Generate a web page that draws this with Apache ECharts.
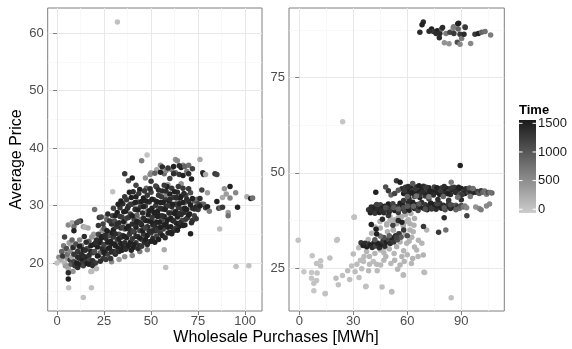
<!DOCTYPE html>
<html>
<head>
<meta charset="utf-8">
<script src="https://cdn.jsdelivr.net/npm/echarts@6/dist/echarts.min.js"></script>
<style>html,body{margin:0;padding:0;background:#fff}#c{width:572px;height:349px}</style>
</head>
<body>
<div id="c"></div>
<script>
// ---- data: [purchases, price, time] ----
const leftTail = [[1,21,600],[2,20.5,300],[2.5,22,900],[3,21.2,1300],[3.5,23,700],[4,24.5,1200],[4,20,200],[5,22.5,1100],[5,19.5,400],[5.5,21.5,800],[6,18.3,1400],[6,17.2,1500],[6.5,23.5,400],[7,20.5,1300],[7,22,600],[7.5,19.8,1000],[8,24,900],[8,21,300],[8.5,22.7,1400],[9,20.2,1200],[9,25.6,1500],[9.5,19.5,1300],[10,21.5,700],[10,23.3,1100],[10.5,20,1500],[11,22,1300],[11,19.2,1400],[11.5,27.2,1000],[12,20.8,1200],[12,24,600],[12.5,19.8,1500],[13,21.5,1400],[13,23,800],[13.5,20.3,1300],[14,22.3,1500],[14,19.5,1200],[14.5,24.6,1400],[15,21,1500],[15,26.2,200],[15.5,20.2,1300],[16,22.5,1100],[16,19.9,1500],[16.5,26.1,300],[17,21.3,1400],[17,23.8,900],[17.5,20.5,1200],[18,22,1500],[18,18.5,200],[18.5,24.5,500],[19,20.4,1400],[19,21.8,1300],[19.5,23.2,1500],[20,29.3,800],[20,22,1100],[20.5,20,1300],[15,22.2,1400],[17,19.8,1500],[13,20.8,1500],[11,21,1400],[12,22.9,1500],[9,21.5,1300],[15.5,23.6,1400],[18,23,1500],[19,19.5,1400],[14,21.2,1400]];
const leftCloud = [[21,24,1400],[21,19,200],[21.5,22.8,1500],[22,25,1200],[22,21.3,1400],[22.5,27.9,1300],[23,23.5,1500],[23,21.8,900],[23.5,28,1100],[24,22.5,1400],[24,24.6,1500],[24.5,20.8,1300],[25,23.2,1200],[25,26,1000],[25.5,21.6,1500],[26,24.3,1400],[26,22.3,1300],[26.5,27.5,900],[27,23.6,1500],[27,21.5,1200],[27.5,25.3,1400],[28,22.6,1500],[28,24.8,1100],[28.5,20.8,1300],[29,26.8,1400],[29,23.4,1500],[29.5,28.2,1200],[30,22,1400],[30,24.5,1300],[30,25.8,1500],[30.5,27.3,1100],[31,23,1500],[31,21.5,1400],[31.5,26.3,1300],[32,28.8,1500],[32,24.1,1200],[32.5,22.5,1500],[33,27,1400],[33,25,1100],[33.5,29.6,1300],[34,23.4,1500],[34,26.1,1400],[34.5,28,1200],[35,22.7,1500],[35,24.8,1300],[35,30.3,1400],[35.5,27.2,1500],[36,25.9,1000],[36,23.5,1400],[36.5,29,1500],[37,31,1300],[37,24.4,1500],[37,27.8,1200],[37.5,22.8,1400],[38,26.4,1500],[38,29.9,1400],[38,34.3,1100],[38.5,25,1300],[39,23.6,1500],[39,28.5,1200],[39.5,31.4,1500],[40,26.8,1400],[40,24.2,1300],[40,30.2,1100],[40.5,22.7,1500],[41,27.6,1200],[41,25.4,1500],[41.5,29.3,1400],[42,31.5,1500],[42,23.5,1300],[42,26.2,1500],[42.5,28.3,900],[43,24.6,1400],[43,30.6,1300],[43.5,27,1500],[44,25.6,1200],[44,23,1400],[44,32.8,1500],[44.5,29.8,1300],[45,26.6,1500],[45,24.1,1100],[45,37.8,700],[45.5,28.7,1400],[46,31.3,1500],[46,25,1300],[46.5,23.6,1400],[47,27.4,1500],[47,29.9,1200],[47.5,33,900],[48,24.8,1500],[48,26.3,1400],[48,31.8,1300],[48.5,28.4,1500],[49,23.7,1100],[49,30.6,1400],[49.5,35.4,600],[50,27.2,1500],[50,25.2,1300],[50,32.3,1200],[50.5,29.5,1500],[51,24.3,1400],[51,26.7,1500],[51.5,31,1100],[52,28.3,1400],[52,25.6,1500],[52,35.6,900],[52.5,30,1300],[53,27.1,1500],[53,24.7,1200],[53,33.2,1400],[53.5,29,1500],[54,26,1400],[54,31.8,1300],[54.5,28.2,1500],[55,25.2,1300],[55,30.5,1500],[55.5,27.3,1100],[56,32.5,1400],[56,29.4,1500],[56,36.7,1400],[56.5,25.9,1200],[57,28.1,1500],[57,35.5,800],[57.5,31,1300],[58,26.8,1500],[58,29.8,1400],[58,36.1,600],[58.5,33.3,1500],[59,27.6,1200],[59,25.2,1400],[59.5,30.8,1500],[60,28.7,1300],[60,32,1500],[60,34.7,1200],[60.5,26.3,1500],[61,29.8,1400],[61,36.2,700],[61.5,27.4,1500],[62,31.4,1300],[62,25.6,1400],[62,36.8,1500],[62.5,28.6,1500],[63,30.2,1200],[63,35.7,900],[63.5,26.9,1500],[64,32.3,1400],[64,28,1500],[64,37.8,600],[64.5,29.6,1300],[65,26.4,1500],[65,35.4,1300],[65.5,31.3,1500],[66,28.4,1400],[66,36.6,1500],[66.5,27.4,1200],[67,30.5,1500],[67,33,1300],[67.5,28.8,1400],[68,26.6,1500],[68,36.8,900],[68.5,31.8,1200],[69,29.3,1500],[69,35.9,700],[69.5,27.9,1300],[70,30.7,1400],[70,37,800],[70.5,28.5,1500],[71,25.1,1500],[71,32.2,1100],[71.5,34.6,1500],[72,29.5,1400],[72,27.4,1300],[73,30.8,1000],[73,28.2,1200],[74,29.8,1500],[74.5,31.1,800],[75,30.3,1200],[75,29.3,1300],[76,31.2,1400],[77,30.2,1100],[77,32.7,1200],[77.5,35.7,1400],[78,30.2,900],[78,35.4,1500],[79,29.6,1300],[80,29.8,1500],[81,29,700]];
const leftFill = [[20.5,23.5,1400],[21.5,21.2,1500],[22,26.5,1300],[23,20.3,1400],[23.5,24.3,1500],[24.5,26.8,1200],[25,21.9,1500],[25.5,24.8,1400],[26,20.6,1300],[26.5,25.6,1500],[27,28.5,1400],[27.5,22.6,1500],[28,27.3,1300],[28.5,23.8,1500],[29,21.9,1400],[29.5,25.2,1500],[30,29.5,1200],[30.5,23.3,1500],[31,25.1,1400],[31,28.2,1500],[31.5,21.9,1300],[32,26.8,1400],[32.5,30.2,1500],[33,22,1400],[33,24.2,1500],[33.5,28.1,1300],[34,30.8,1500],[34.5,24.5,1400],[34.5,22.2,1500],[35,26.2,1200],[35.5,28.9,1500],[36,24.6,1500],[36,31.5,1300],[36.5,22.4,1400],[37,26,1500],[37.5,29.5,1400],[38,23.1,1500],[38,27.9,1300],[38.5,32.3,1500],[39,25.6,1400],[39,30.2,1300],[39.5,22.2,1500],[40,28.2,1500],[40.5,25.5,1200],[40.5,32.4,1400],[41,23.2,1500],[41.5,26.7,1400],[41.5,30.5,1500],[42,24.6,1400],[42.5,27.2,1500],[43,22.5,1400],[43,29.2,1500],[43.5,32.1,1300],[44,24.3,1500],[44.5,26.9,1400],[45,30.7,1500],[45,22.9,1300],[45.5,25.6,1500],[46,27.8,1400],[46,29.8,1500],[46.5,32.5,1300],[47,24.1,1500],[47,26.1,1200],[47.5,30.8,1500],[48,23.2,1400],[48.5,27.3,1500],[49,25.5,1400],[49,29.1,1500],[49.5,32.9,1400],[50,23.8,1500],[50.5,27.9,1300],[50.5,31.1,1500],[51,25.6,1400],[51.5,28.8,1500],[52,23.6,1500],[52,26.5,1400],[52.5,33.4,1200],[53,30.7,1500],[53.5,25.7,1300],[53.5,28.1,1500],[54,24.1,1500],[54,32.7,1400],[54.5,27.1,1500],[55,29.5,1400],[55,26.2,1500],[55.5,31.5,1300],[56,24.8,1500],[56,28.2,1400],[56.5,30.5,1500],[57,26.6,1500],[57,33.5,1300],[57.5,24.4,1400],[57.5,29.3,1500],[58,32.5,1400],[58.5,27.4,1500],[59,30,1300],[59,26.2,1500],[59.5,28.7,1400],[60,25.3,1500],[60,31.1,1400],[60.5,27.8,1500],[61,33,1300],[61,25.1,1500],[61.5,30.2,1500],[62,27.3,1400],[62.5,32.4,1500],[63,26,1300],[63,28.9,1500],[63.5,31.4,1400],[64,25.7,1500],[64.5,33.3,1300],[65,28.6,1400],[65,30.3,1500],[65.5,27,1400],[66,31.6,1500],[66.5,29.4,1300],[67,26.5,1500],[67.5,32.1,1400],[68,29.5,1500],[68.5,27.6,1300],[69,31.1,1400],[70,28.4,1500],[70,32.9,1300],[71,30.1,1500],[71.5,27,1400],[72,31.2,1500],[73,29.4,1400],[74,27.7,1300],[76,29.9,1500],[36,35.5,1300],[40,34.8,1500],[42,33.5,1200],[50,34.2,1300],[55,35.8,1500],[59,36.5,1300],[62,35.5,1400],[65,36.9,1400],[67,35.2,1500],[70,35.5,1400],[72,36.4,1200]];
const leftMid = [[30,26.8,600],[33,23.3,700],[36,27,500],[39,25.8,800],[42,29.5,600],[44,27.6,700],[46,26,500],[48,29,600],[50,26.2,700],[52,27.2,500],[54,29.5,600],[56,27.8,800],[58,31.8,600],[60,30,500],[62,29,700],[64,30.8,600],[66,33.8,500],[68,30.5,700],[47,34.8,500],[50,35.7,400],[55,37,500],[59,33.6,400],[63,38,500],[67,37,600],[53,36.2,300],[57,22.3,300],[48,22.3,600],[44,22,700],[40,21.3,600],[36,21.1,500],[33,20.6,400],[29,20.2,600],[3,21,400],[4,22.2,300],[5.5,20.8,500],[7,23.3,300],[6,26.6,600],[8,27,300],[9,26.3,800],[10.5,27,1100],[12.5,27.3,1400],[14,26.3,400],[2,20.6,200],[4.5,19.5,600],[6,19,300],[8.5,18.5,500],[10,22.6,200],[12,22.3,400],[16,20.6,300],[18,20,600],[19.5,25,400],[22,24.8,300],[24,25.6,500],[26,28,400]];
const leftSparse = [[79,35.4,300],[80,32.2,400],[84,35.5,1300],[85,35.4,1200],[85,30.7,1500],[86,29.5,1200],[87,29.6,900],[88,29.7,1300],[88,31.4,300],[89,32.9,500],[90,32,400],[91,28.8,400],[91,28.2,800],[92,33.3,1500],[92,31.3,600],[95,32.2,600],[96,29.7,1500],[101,31.5,300],[103,31.2,1500],[104,31.3,800],[76,38,300],[32.1,61.9,100],[14,14,100],[6.2,15.7,100],[18.3,15.7,100],[57.8,19.2,100],[95.2,19.4,100],[102,19.5,100],[47.9,38.8,100],[86.5,25.9,100],[29.6,32.4,100],[0,20,100],[18.5,18.5,150]];

const rightTop = [[68.9,89.6,1400],[68.2,88.9,1500],[67,86.9,1400],[73.5,87.8,1500],[74.5,87.1,1300],[76.7,87.3,1500],[78.1,86.6,1400],[79,87.8,1000],[77.8,85.5,1400],[81.5,86.6,700],[83.7,86.9,1200],[85.5,87.9,600],[85.9,86.6,1300],[88,89.1,1500],[88.3,87.8,900],[89.3,86.4,1300],[90.2,85.3,700],[92,88.4,800],[91.5,86.4,1400],[80.6,84.2,500],[83.2,83.9,500],[87.8,84.3,1100],[89.3,83.8,600],[95.2,84,600],[97.6,86.4,1300],[99.5,86.6,1500],[101.3,86.9,900],[103.2,87.1,800],[106.3,86.2,700],[76,86.6,1400],[72.1,87.2,1400],[88.5,89.3,1500],[92.2,88.2,1300],[79.6,88.2,1400],[85.7,88.4,700]];
const rightBand45 = [[57,45.8,1400],[58,44.6,1500],[59,46.2,1300],[60,45.1,1500],[61,44.3,1400],[62,46,1500],[63,45.3,1200],[64,44.5,1500],[65,46.3,1400],[66,45,1500],[67,44.2,1300],[68,45.7,1500],[69,46.5,1400],[70,44.7,1500],[71,45.5,1300],[72,46.1,1500],[73,44.4,1400],[74,45.2,1500],[75,46.3,1200],[76,44.9,1500],[77,45.7,1400],[78,44.3,1500],[79,46,1300],[80,45.2,1500],[81,44.6,1400],[82,45.9,1500],[83,45.1,1200],[84,44.3,1400],[85,45.6,1500],[86,46.2,1300],[87,44.8,1500],[88,45.5,1400],[89,44.4,1100],[90,45.9,1500],[91,45,1300],[92,44.6,1500],[93,45.5,1400],[94,44.9,1200],[95,45.3,1500],[96,44.7,1400],[97,45.4,1300],[98,44.9,1500],[99,45.1,1200],[100,44.6,1000],[101,45.3,1300],[102,44.9,900],[103,45.2,800],[104,44.4,700],[105,44.8,1100],[107,44.7,900],[58.5,45.3,1300],[60.5,46.4,1400],[62.5,44.8,1500],[64.5,45.8,1300],[66.5,46.6,1500],[68.5,44.9,1400],[70.5,46.2,1300],[72.5,45,1500],[74.5,44.2,1400],[76.5,46.1,1500],[78.5,45.3,1300],[80.5,46.4,1400],[82.5,44.5,1500],[84.5,46,1300],[86.5,45.1,1400],[88.5,46.2,1500],[90.5,44.3,1300],[92.5,45.8,1400],[94.5,46,1000],[96.5,45.9,800],[60,43.8,900],[65,43.9,800],[72,43.7,700],[80,43.8,900],[88,43.6,800],[95,43.8,700],[54,47.9,1300],[42.5,44.9,1500],[49.5,45.3,1300],[48,46.3,1100],[51,44.2,900],[56,47.5,1500],[63,47.2,1000],[84.4,47.5,700],[106,44.8,800],[105.7,41.8,600],[53,44.6,1200],[55,45.4,1000],[89.4,51.9,1500]];
const rightBand41 = [[38.5,40.3,1300],[39.5,39.5,1500],[40,41,1400],[41,40.2,1500],[42,39.4,1300],[42.5,41.3,1500],[43.5,40.5,1400],[44.5,39.6,1500],[45,41.6,1200],[46,40.7,1500],[47,39.5,1400],[47.5,41.2,1500],[48.5,40.3,1300],[49.5,41.8,1500],[50,39.8,1400],[51,40.8,1500],[52,41.9,1200],[53,40.1,1500],[54,41.1,1400],[55,39.6,1300],[56,42,1500],[56.5,40.6,1400],[57.5,41.5,1500],[58.5,39.9,1200],[59.5,40.9,1500],[60.5,42.1,1400],[61,40.2,1500],[62,41.2,1300],[63,42.3,1500],[64,40.6,1400],[65,41.6,1500],[66,40.1,1200],[67,41,1500],[68,42.2,1400],[69,40.7,1500],[70,41.6,1300],[71,40.3,1500],[72,41.3,1400],[73,42.1,1500],[74,40.8,1200],[75,41.7,1500],[76,40.4,1400],[77,41.3,1500],[78,42,1300],[79,40.7,1500],[80,41.5,1400],[81,40.3,1100],[82,41.2,1500],[83,41.9,1300],[84,40.6,1400],[85,41.4,1200],[86,40.9,1500],[87,41.5,1000],[88,41.1,1300],[89,40.7,900],[90,41.4,1100],[91,41,800],[92,41.3,700],[93,40.8,600],[40,40.1,1400],[43,41.7,1200],[45.5,40.2,1400],[48,40.9,1100],[50.5,40.4,1300],[52.5,40.9,1000],[55,40.5,900],[58,40.8,1100],[60,41.2,1000],[63.5,41.2,900],[66.5,41.8,1000],[70,40.4,1100],[73.5,40.5,1300],[76.5,41.9,1200],[80.5,40.8,1000],[84,41.6,1100],[87,40.3,900],[58,42.7,1300],[61,43.1,1400],[67,43.5,1500],[72,43.2,1200],[77,43,1400],[83,42.8,1300],[90,42.9,1400],[64,43.8,1100],[70,43.9,1300],[98,41,500],[100,40.6,600],[101,40.3,700],[104,41.3,600]];
const rightBand31 = [[34.3,31.6,1300],[35.5,30.9,1500],[36.5,31.5,1400],[37.5,30.6,1500],[38.5,31.3,1300],[39.5,31,1500],[40.5,30.4,1400],[41.5,31.6,1500],[42.5,30.8,1200],[43.5,31.5,1500],[44.5,30.3,1400],[45.5,31.2,1500],[46.5,32,1300],[47.5,30.7,1400],[48.5,31.8,1500],[49.5,32.5,1200],[50.5,31.4,1400],[51.5,32.9,1500],[52.5,31.8,1300],[53.5,33.5,1400],[54.5,32.4,1100],[55.5,34,1300],[56.5,33.1,1000],[50,33.5,900],[47,33,1100],[45,33.4,800],[42,32.4,1000],[77.4,34.4,1300],[81.4,35,800],[93.1,38.7,1200],[80.5,38.2,1400],[69,35.9,1300],[42.7,35.2,1500],[46.2,37.8,1400],[49.5,38.8,1300],[52,36.2,1200],[55,37.5,1400],[58,35,1300],[60,33.5,1100],[54,33,1200],[43,33.9,1500],[40,36.4,1500],[57,37,1500]];
const rightGrey = [[-0.6,32.3,80],[20.8,32.3,120],[30.4,38.3,150],[7.2,28.2,60],[9.6,26.2,90],[11.9,26.9,70],[11.9,25.5,100],[17,27.6,110],[2.6,24,40],[6.8,23.8,50],[9.9,23.7,80],[6.8,22.3,60],[9.6,21.7,70],[8.1,21,90],[8.1,19,50],[14.3,18.2,60],[20.4,22.3,130],[21.7,20.6,100],[26.9,24.3,140],[29.1,25.5,120],[30,28.7,150],[33.2,22.5,110],[36.9,20.1,90],[34.7,24.8,130],[38.5,24.3,160],[35.7,26.7,140],[39,28,180],[43.3,24.3,150],[45.2,25.8,170],[41.1,26.7,120],[37.4,29.3,200],[33,30.3,160],[51.3,18.8,130],[54.6,24.7,190],[57.8,23.2,170],[58.3,26.7,200],[62.3,26.2,180],[69.3,23.9,150],[68.9,28.4,220],[65.2,29.7,190],[70.8,35,210],[50.9,26.2,160],[52.7,28.8,180],[48.1,28,200],[45,29.7,170],[40.7,30.6,190],[47.2,30.4,210],[54.1,30.6,230],[59.7,31.5,200],[58.7,33.7,240],[57.8,36.3,220],[54.1,36.6,250],[52.3,35,200],[56.9,38.5,260],[60.6,37.7,230],[48.6,36.6,210],[44.8,37.2,190],[40.2,34.1,220],[38.3,32.5,200],[42.1,35.8,240],[63.3,34.5,200],[62.5,33.1,220],[68.1,31.5,190],[66.2,32.3,210],[63.7,36.2,230],[61.5,36.6,250],[50.4,38.5,240],[48.6,36.3,260],[52.2,35,280],[57.8,36,300],[59.6,37.2,260],[61.5,35,240],[50.4,37.5,220],[30.6,38.4,100],[21.2,32.5,90],[69.6,23.8,150],[57.9,23.1,160],[46,20,120],[37.1,20.2,100],[14.5,18.3,80],[51.4,18.7,140],[24.1,63.4,60],[84.4,17.2,100],[42,28.8,200],[44,31.5,220],[46,33,240],[48,32,210],[50,30,230],[52,32.5,250],[55,34,260],[56,31.8,240],[58,29.5,210],[60,28.5,200],[61,32,230],[64,30.5,220],[66,28,200],[43,26,160],[47,27,180],[53,27,190],[56,25.8,200],[39,26,150],[36,28,170],[34,27,140],[49,34.5,230],[45,35.5,250],[55,38.2,270],[53,37.7,260],[59,39,280],[62,39.3,300],[64,38,260],[47,29,200],[57,28,230],[63,27.5,210],[35,31,180],[32,26,140],[28,22,110],[24,23,100],[31,24,130]];

// ---- ticks ----
const leftXTicks = [0, 25, 50, 75, 100];
const leftXMinor = [12.5, 37.5, 62.5, 87.5];
const leftYTicks = [20, 30, 40, 50, 60];
const leftYMinor = [15, 25, 35, 45, 55];
const rightXTicks = [0, 30, 60, 90];
const rightXMinor = [15, 45, 75, 105];
const rightYTicks = [25, 50, 75];
const rightYMinor = [37.5, 62.5, 87.5];
const legendTicks = [0, 500, 1000, 1500];

const leftData = [].concat(leftMid, leftTail, leftCloud, leftFill, leftSparse);
const rightData = [].concat(rightGrey, rightBand31, rightBand41, rightBand45, rightTop);

const FONT = '"Liberation Sans", Arial, Helvetica, sans-serif';
const LOW = '#cccccc', HIGH = '#1a1a1a';
const TMAX = 1560;

function gridSeries(xi, xMaj, xMin, yMaj, yMin) {
  const maj = {color: '#e8e8e8', width: 1, type: 'solid'};
  const mnr = {color: '#f6f6f6', width: 0.7, type: 'solid'};
  const d = [];
  xMin.forEach(v => d.push({xAxis: v, lineStyle: mnr}));
  yMin.forEach(v => d.push({yAxis: v, lineStyle: mnr}));
  xMaj.forEach(v => d.push({xAxis: v, lineStyle: maj}));
  yMaj.forEach(v => d.push({yAxis: v, lineStyle: maj}));
  return {
    type: 'scatter', xAxisIndex: xi, yAxisIndex: xi, data: [], z: 0, silent: true,
    markLine: {z: 0, zlevel: 0, symbol: 'none', silent: true, animation: false, label: {show: false}, data: d}
  };
}

function ax(gi, min, max, ticks) {
  return {
    type: 'value', gridIndex: gi, min: min, max: max,
    axisLine: {show: false},
    splitLine: {show: false},
    axisTick: {show: true, length: 4, lineStyle: {color: '#7f7f7f'}, customValues: ticks},
    axisLabel: {show: true, customValues: ticks, color: '#4d4d4d', fontSize: 13, fontFamily: FONT, margin: 4}
  };
}

// legend colour bar (guide)
const barTop = 120, barH = 93, barX = 519, barW = 17;
const legendMaxVal = 1558, legendMinVal = -65;
function legY(v) { return barTop + (legendMaxVal - v) / (legendMaxVal - legendMinVal) * barH; }
const legendGraphics = [
  {type: 'text', left: barX, top: 104, style: {text: 'Time', font: 'bold 13px ' + FONT, fill: '#000'}},
  {type: 'rect', shape: {x: barX, y: barTop, width: barW, height: barH},
   style: {fill: new echarts.graphic.LinearGradient(0, 0, 0, 1, [{offset: 0, color: HIGH}, {offset: 1, color: LOW}])}}
];
legendTicks.forEach(v => {
  const y = legY(v);
  legendGraphics.push({type: 'line', shape: {x1: barX, y1: y, x2: barX + 3.5, y2: y}, style: {stroke: '#fff', lineWidth: 1}});
  legendGraphics.push({type: 'line', shape: {x1: barX + barW - 3.5, y1: y, x2: barX + barW, y2: y}, style: {stroke: '#fff', lineWidth: 1}});
  legendGraphics.push({type: 'text', x: barX + barW + 2, y: y, style: {text: String(v), font: '13px ' + FONT, fill: '#1a1a1a', textVerticalAlign: 'middle'}});
});

const chart = echarts.init(document.getElementById('c'), null, {renderer: 'canvas'});
chart.setOption({
  animation: false,
  backgroundColor: '#fff',
  grid: [
    {left: 47.7, top: 8, width: 214.3, height: 303, show: true, borderColor: '#7f7f7f', borderWidth: 1, backgroundColor: '#fff'},
    {left: 289, top: 8, width: 215.3, height: 303, show: true, borderColor: '#7f7f7f', borderWidth: 1, backgroundColor: '#fff'}
  ],
  xAxis: [ax(0, -4.95, 109, leftXTicks), ax(1, -5.7, 113.9, rightXTicks)],
  yAxis: [ax(0, 11.65, 64.35, leftYTicks), ax(1, 13.7, 93.3, rightYTicks)],
  visualMap: {
    type: 'continuous', show: false, min: 0, max: TMAX, dimension: 2, seriesIndex: [2, 3],
    inRange: {color: [LOW, HIGH]}
  },
  series: [
    gridSeries(0, leftXTicks, leftXMinor, leftYTicks, leftYMinor),
    gridSeries(1, rightXTicks, rightXMinor, rightYTicks, rightYMinor),
    {type: 'scatter', xAxisIndex: 0, yAxisIndex: 0, data: leftData, symbolSize: 5.5, z: 3, itemStyle: {opacity: 1}},
    {type: 'scatter', xAxisIndex: 1, yAxisIndex: 1, data: rightData, symbolSize: 5.5, z: 3, itemStyle: {opacity: 1}}
  ],
  graphic: [
    {type: 'text', x: 276, y: 338, style: {text: 'Wholesale Purchases [MWh]', font: '16px ' + FONT, fill: '#000', textAlign: 'center', textVerticalAlign: 'middle'}},
    {type: 'text', x: 17, y: 159.5, rotation: Math.PI / 2, style: {text: 'Average Price', font: '16px ' + FONT, fill: '#000', textAlign: 'center', textVerticalAlign: 'middle'}}
  ].concat(legendGraphics)
});
</script>
</body>
</html>
